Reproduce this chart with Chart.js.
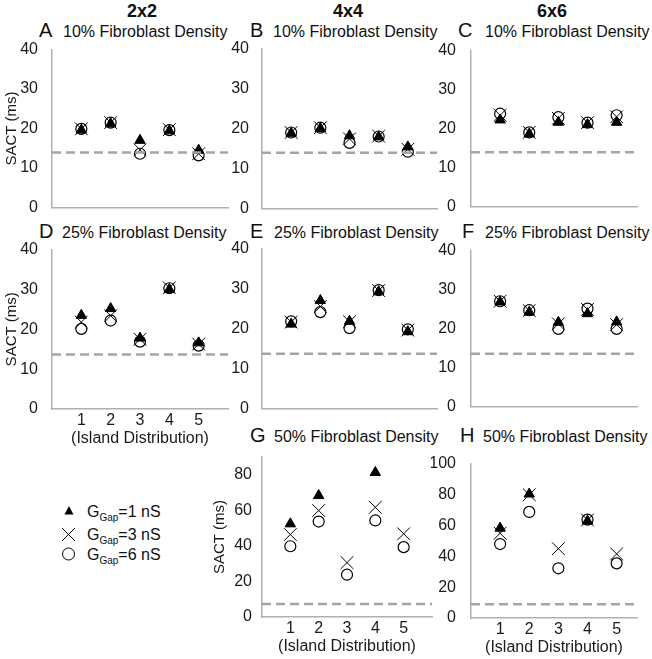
<!DOCTYPE html>
<html lang="en">
<head>
<meta charset="UTF-8">
<title>SACT by island distribution</title>
<script src="https://cdn.jsdelivr.net/npm/chart.js"></script>
<style>
  body { margin: 0; background: #fff; }
  #fig { position: relative; width: 652px; height: 659px; overflow: hidden; }
  #fig canvas, #fig svg { position: absolute; }
</style>
</head>
<body>
<div id="fig">
  <svg id="labels" width="652" height="659" style="left:0;top:0" font-family="Liberation Sans, Arial, sans-serif" fill="#111"></svg>
</div>
<script>
// ---- data ----
const islands = [1, 2, 3, 4, 5];
const yTicks40 = [0, 10, 20, 30, 40];
const yTicks80 = [0, 20, 40, 60, 80];
const yTicks100 = [0, 20, 40, 60, 80, 100];

const columnLabels = ['2x2', '4x4', '6x6'];
const panelLetters = ['A', 'B', 'C', 'D', 'E', 'F', 'G', 'H'];
const densityLabels = [
  '10% Fibroblast Density', '10% Fibroblast Density', '10% Fibroblast Density',
  '25% Fibroblast Density', '25% Fibroblast Density', '25% Fibroblast Density',
  '50% Fibroblast Density', '50% Fibroblast Density'
];
const legendValues = ['=1 nS', '=3 nS', '=6 nS'];

// SACT (ms) per island distribution, G_gap = 1 / 3 / 6 nS (null = not shown)
const gap1A = [19.6, 21.2, 17.0, 19.4, 14.5];
const gap3A = [19.9, 21.5, 14.6, 19.7, 13.6];
const gap6A = [19.9, 21.5, 13.6, 19.6, 13.2];

const gap1B = [18.8, 20.0, 18.2, 17.9, 15.4];
const gap3B = [19.0, 20.2, 17.4, 18.1, 14.8];
const gap6B = [19.0, 20.2, 16.4, 18.0, 14.2];

const gap1C = [22.2, 18.6, 21.6, 21.0, 21.6];
const gap3C = [23.4, 19.0, 22.6, 21.5, 23.0];
const gap6C = [23.8, 19.0, 22.9, 21.5, 23.4];

const gap1D = [23.5, 25.2, 17.8, 30.0, 16.6];
const gap3D = [21.8, 23.4, 17.5, 30.4, 16.3];
const gap6D = [20.1, 22.2, 16.9, 30.3, 15.9];

const gap1E = [21.1, 27.0, 21.8, 29.2, 19.2];
const gap3E = [21.6, 25.5, 21.7, 29.5, 19.6];
const gap6E = [21.8, 24.1, 20.1, 29.6, 19.8];

const gap1F = [26.8, 24.2, 21.6, 23.8, 21.7];
const gap3F = [27.0, 24.6, 21.2, 24.9, 21.0];
const gap6F = [27.0, 24.7, 19.9, 25.1, 19.9];

const gap1G = [52.4, 68.3, null, 81.3, null];
const gap3G = [46.4, 59.9, 30.6, 61.7, 46.8];
const gap6G = [39.8, 53.7, 23.8, 54.3, 39.3];

const gap1H = [58.2, 80.3, null, 62.8, null];
const gap3H = [54.9, 79.8, 44.9, 63.5, 41.5];
const gap6H = [47.9, 68.7, 32.2, 63.7, 35.4];

// control SACT without fibroblasts (dashed line), one per panel A..H
const controlSACT = [13.9, 13.9, 13.9, 13.7, 13.7, 13.5, 7.3, 8.9];

// ---- layout ----
const FONT = 'Liberation Sans, Arial, sans-serif';
const TEXT = '#1a1a1a';
const AXIS = '#b0b0b0';
const PAD_T = 14, PAD_R = 10;

// box = plot area [left, top, right, bottom] in page px
const panels = [
  { gap1: gap1A, gap3: gap3A, gap6: gap6A, yMax: 40, yTicks: yTicks40, box: [52, 48, 228, 209], xMax: 6, yW: 49, yPad: 6, xH: 14, yTitle: true, xTitle: false, head: [39, 63, 37] },
  { gap1: gap1B, gap3: gap3B, gap6: gap6B, yMax: 40, yTicks: yTicks40, box: [262, 48, 437, 209], xMax: 6, yW: 40, yPad: 5, xH: 14, yTitle: false, xTitle: false, head: [250, 273, 37] },
  { gap1: gap1C, gap3: gap3C, gap6: gap6C, yMax: 40, yTicks: yTicks40, box: [471, 48, 637, 209], xMax: 5.7, yW: 40, yPad: 7, xH: 14, yTitle: false, xTitle: false, head: [458, 485, 37] },
  { gap1: gap1D, gap3: gap3D, gap6: gap6D, yMax: 40, yTicks: yTicks40, box: [52, 248, 228, 409], xMax: 6, yW: 49, yPad: 6, xH: 39, yTitle: true, xTitle: true, head: [39, 62, 238] },
  { gap1: gap1E, gap3: gap3E, gap6: gap6E, yMax: 40, yTicks: yTicks40, box: [262, 248, 437, 409], xMax: 6, yW: 40, yPad: 5, xH: 14, yTitle: false, xTitle: false, head: [250, 274, 238] },
  { gap1: gap1F, gap3: gap3F, gap6: gap6F, yMax: 40, yTicks: yTicks40, box: [471, 248, 637, 409], xMax: 5.7, yW: 40, yPad: 7, xH: 14, yTitle: false, xTitle: false, head: [462, 485, 238] },
  { gap1: gap1G, gap3: gap3G, gap6: gap6G, yMax: 90, yTicks: yTicks80, box: [262, 457, 432, 617], xMax: 6, yW: 51, yPad: 2, xH: 39, yTitle: true, xTitle: true, head: [250, 274, 442] },
  { gap1: gap1H, gap3: gap3H, gap6: gap6H, yMax: 100, yTicks: yTicks100, box: [471, 461, 637, 618], xMax: 5.7, yW: 40, yPad: 7, xH: 39, yTitle: false, xTitle: true, head: [460, 483, 442] }
];

const fig = document.getElementById('fig');
const svg = document.getElementById('labels');
const NS = 'http://www.w3.org/2000/svg';

function svgEl(tag, attrs, text) {
  const el = document.createElementNS(NS, tag);
  for (const k in attrs) el.setAttribute(k, attrs[k]);
  if (text !== undefined) el.textContent = text;
  svg.appendChild(el);
  return el;
}

function points(values) {
  return islands.map((x, i) => ({ x: x, y: values[i] }));
}

function makePanel(p, idx) {
  const [L, T, R, B] = p.box;
  const canvas = document.createElement('canvas');
  canvas.width = p.yW + (R - L) + PAD_R;
  canvas.height = PAD_T + (B - T) + p.xH;
  canvas.style.left = (L - p.yW) + 'px';
  canvas.style.top = (T - PAD_T) + 'px';
  fig.appendChild(canvas);

  new Chart(canvas, {
    type: 'scatter',
    data: {
      datasets: [
        { type: 'line', label: 'control', data: [{ x: 0, y: controlSACT[idx] }, { x: p.xMax, y: controlSACT[idx] }],
          borderColor: '#a5a5a5', borderWidth: 2.5, borderDash: [9, 5], pointRadius: 0, order: 0 },
        { label: 'GGap=6 nS', data: points(p.gap6), pointStyle: 'circle', pointRadius: 5.5,
          backgroundColor: 'rgba(0,0,0,0)', borderColor: '#000', borderWidth: 1.2, order: 1 },
        { label: 'GGap=3 nS', data: points(p.gap3), pointStyle: 'crossRot', pointRadius: 9,
          borderColor: '#000', borderWidth: 1, order: 2 },
        { label: 'GGap=1 nS', data: points(p.gap1), pointStyle: 'triangle', pointRadius: 6,
          backgroundColor: '#000', borderColor: '#000', borderWidth: 1, order: 3 }
      ]
    },
    options: {
      responsive: false,
      animation: false,
      events: [],
      layout: { padding: { top: PAD_T, right: PAD_R, left: 0, bottom: 0 } },
      plugins: { legend: { display: false }, tooltip: { enabled: false } },
      scales: {
        x: {
          type: 'linear', min: 0, max: p.xMax,
          grid: { display: false, drawTicks: false },
          border: { color: AXIS, width: 1.5 },
          afterBuildTicks: s => { s.ticks = islands.map(v => ({ value: v })); },
          afterFit: s => { s.height = p.xH; },
          ticks: { display: p.xTitle, color: TEXT, padding: 2, font: { family: FONT, size: 16 } },
          title: { display: p.xTitle, text: '(Island Distribution)', color: TEXT, padding: 0, font: { family: FONT, size: 16 } }
        },
        y: {
          min: 0, max: p.yMax,
          grid: { display: false },
          border: { color: AXIS, width: 1.5 },
          afterBuildTicks: s => { s.ticks = p.yTicks.map(v => ({ value: v })); },
          afterFit: s => { s.width = p.yW; },
          ticks: { color: TEXT, padding: p.yPad, font: { family: FONT, size: 16 } },
          title: { display: p.yTitle, text: 'SACT (ms)', color: TEXT, padding: 0, font: { family: FONT, size: 15 } }
        }
      }
    }
  });

  // panel letter + density title
  const [lx, tx, base] = p.head;
  svgEl('text', { x: lx, y: base, 'font-size': 20 }, panelLetters[idx]);
  svgEl('text', { x: tx, y: base, 'font-size': 16 }, densityLabels[idx]);
}

panels.forEach(makePanel);

// column headers
[142, 348, 552].forEach((x, i) => {
  svgEl('text', { x: x, y: 17, 'font-size': 18, 'font-weight': 'bold', 'text-anchor': 'middle' }, columnLabels[i]);
});

// legend
const legendRows = [511, 534, 554];
svgEl('polygon', { points: '69,506 73.5,514.5 64.5,514.5', fill: '#000' });
svgEl('path', { d: 'M62,528 L75,541 M75,528 L62,541', stroke: '#000', 'stroke-width': 1, fill: 'none' });
svgEl('circle', { cx: 68.5, cy: 554, r: 6, stroke: '#000', 'stroke-width': 1, fill: 'none' });
legendRows.forEach((y, i) => {
  const t = svgEl('text', { x: 87, y: y + 6, 'font-size': 16 });
  const g = document.createElementNS(NS, 'tspan'); g.textContent = 'G'; t.appendChild(g);
  const sub = document.createElementNS(NS, 'tspan');
  sub.setAttribute('font-size', 10); sub.setAttribute('dy', 4); sub.textContent = 'Gap'; t.appendChild(sub);
  const rest = document.createElementNS(NS, 'tspan');
  rest.setAttribute('dy', -4); rest.textContent = legendValues[i]; t.appendChild(rest);
});
</script>
</body>
</html>
